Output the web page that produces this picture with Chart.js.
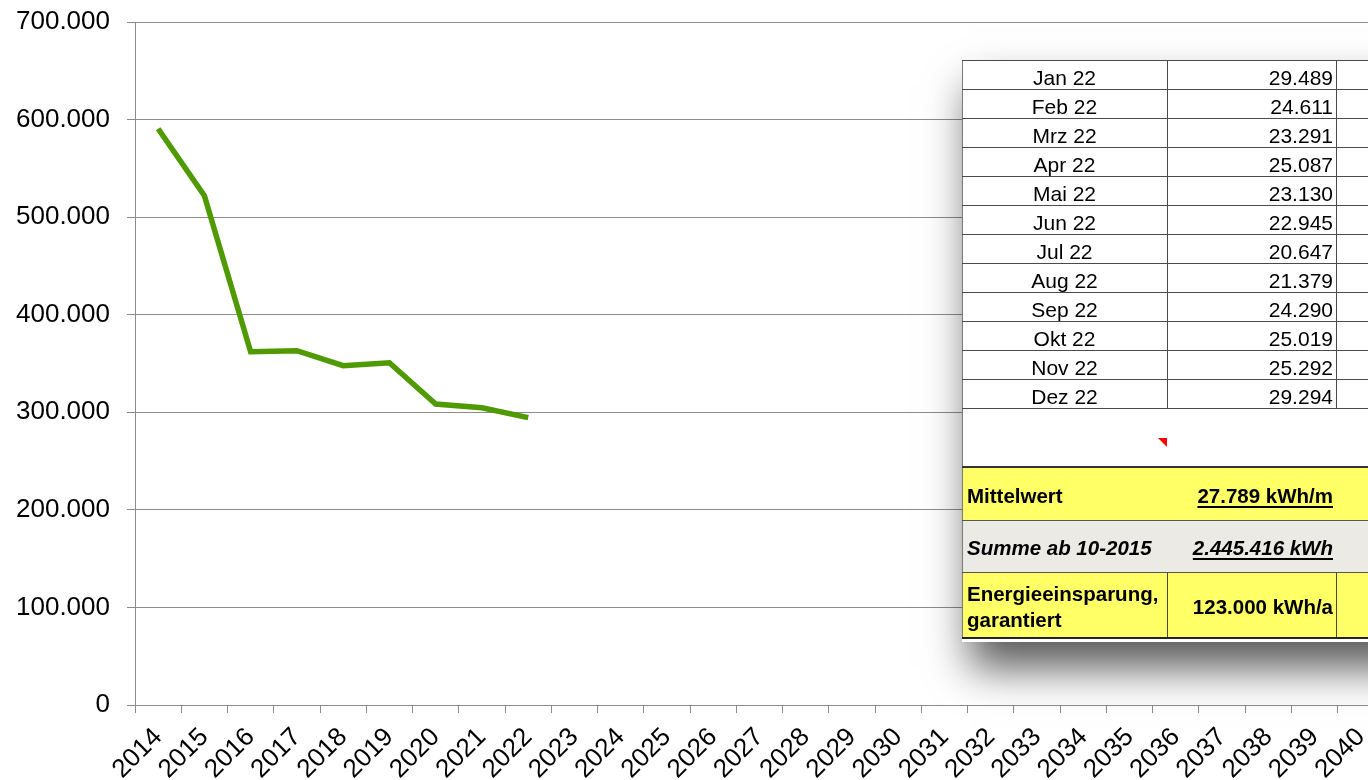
<!DOCTYPE html>
<html>
<head>
<meta charset="utf-8">
<script src="https://cdn.jsdelivr.net/npm/chart.js@4.4.1/dist/chart.umd.min.js"></script>
<style>
  html, body { margin:0; padding:0; background:#fff; width:1368px; height:780px; overflow:hidden; }
  #wrap { position:absolute; left:0; top:0; width:1400px; height:780px; }
  #sheet { position:absolute; left:962px; top:60px; width:460px; height:582px; background:#fff;
           box-shadow: 8px 26px 40px rgba(0,0,0,0.65);
           font-family:"Liberation Sans", Arial, sans-serif; color:#000; }
  .hl { position:absolute; left:0; width:460px; height:1px; background:#4a4a4a; }
  .vl { position:absolute; width:1px; background:#4a4a4a; }
  .cell { position:absolute; display:flex; align-items:center; box-sizing:border-box; white-space:nowrap; }
  .u { text-decoration:underline; text-decoration-thickness:2px; text-underline-offset:3px; }
</style>
</head>
<body>
<div id="wrap"><canvas id="c" width="1400" height="780"></canvas></div>
<div id="sheet"></div>
<script>
// ---- chart data ----
const years = ['2014','2015','2016','2017','2018','2019','2020','2021','2022','2023','2024','2025','2026','2027',
               '2028','2029','2030','2031','2032','2033','2034','2035','2036','2037','2038','2039','2040'];
const consumption = [590600, 522000, 362100, 363100, 347800, 350800, 308500, 304700, 294500];
const yTickValues = [0, 100000, 200000, 300000, 400000, 500000, 600000, 700000];

// ---- table overlay data ----
const tableMonths = ['Jan 22','Feb 22','Mrz 22','Apr 22','Mai 22','Jun 22','Jul 22','Aug 22','Sep 22','Okt 22','Nov 22','Dez 22'];
const tableValues = ['29.489','24.611','23.291','25.087','23.130','22.945','20.647','21.379','24.290','25.019','25.292','29.294'];
const summaryLabels = ['Mittelwert', 'Summe ab 10-2015', 'Energieeinsparung,<br>garantiert'];
const summaryValues = ['27.789 kWh/m', '2.445.416 kWh', '123.000 kWh/a'];

const FONT = '"Liberation Sans", Arial, sans-serif';
const fmt = v => String(v).replace(/\B(?=(\d{3})+(?!\d))/g, '.');

new Chart(document.getElementById('c'), {
  type: 'line',
  data: {
    labels: years,
    datasets: [{
      data: consumption,
      borderColor: '#4e9a00',
      borderWidth: 5.5,
      pointRadius: 0,
      tension: 0,
      fill: false
    }]
  },
  options: {
    responsive: false,
    animation: false,
    devicePixelRatio: 1,
    layout: { padding: { top: 22, right: 16, bottom: 0, left: 0 } },
    plugins: { legend: { display: false }, tooltip: { enabled: false } },
    scales: {
      x: {
        offset: true,
        grid: { offset: true, drawOnChartArea: false, drawTicks: true, tickLength: 8, color: '#8c8c8c' },
        border: { color: '#8c8c8c' },
        ticks: { autoSkip: false, minRotation: 45, maxRotation: 45, color: '#000', font: { family: FONT, size: 26 }, padding: 9 },
        afterFit(s) { s.height = 75; }
      },
      y: {
        min: 0, max: 700000,
        afterBuildTicks(s) { s.ticks = yTickValues.map(v => ({ value: v })); },
        ticks: { color: '#000', font: { family: FONT, size: 26 }, padding: 17, callback: v => fmt(v) },
        grid: { color: '#8c8c8c', tickLength: 8 },
        border: { color: '#8c8c8c' },
        afterFit(s) { s.width = 135; s.paddingTop = 0; s.paddingBottom = 0; }
      }
    }
  }
});

// ---- table overlay (pasted spreadsheet excerpt) ----
const sheet = document.getElementById('sheet');
function add(cls, style, html) {
  const d = document.createElement('div');
  d.className = cls;
  Object.assign(d.style, style);
  if (html !== undefined) d.innerHTML = html;
  sheet.appendChild(d);
  return d;
}
const ROW = 29, COL1 = 205, COL2 = 374;
// left border
add('vl', { left: '0px', top: '0px', height: '579px', background: '#7a7a7a' });
// month rows
tableMonths.forEach((m, i) => {
  const top = i * ROW;
  add('cell', { left: '0px', top: (top + 3) + 'px', width: COL1 + 'px', height: ROW + 'px', justifyContent: 'center', fontSize: '21px' }, m);
  add('cell', { left: COL1 + 'px', top: (top + 3) + 'px', width: (COL2 - COL1 - 3) + 'px', height: ROW + 'px', justifyContent: 'flex-end', fontSize: '21px' }, tableValues[i]);
});
for (let i = 0; i <= tableMonths.length; i++) add('hl', { top: (i * ROW) + 'px' });
add('vl', { left: COL1 + 'px', top: '0px', height: (tableMonths.length * ROW) + 'px' });
add('vl', { left: COL2 + 'px', top: '0px', height: (tableMonths.length * ROW) + 'px' });
// comment marker
add('', { position: 'absolute', left: '196px', top: '378px', width: '0', height: '0',
          borderTop: '9px solid #ff0000', borderLeft: '9px solid transparent' });
// summary rows
const rows = [
  { top: 407, h: 53, bg: '#ffff66', style: 'bold' },
  { top: 460, h: 52, bg: '#ebeae4', style: 'bolditalic' },
  { top: 512, h: 66, bg: '#ffff66', style: 'bold' }
];
rows.forEach((r, i) => {
  add('', { position: 'absolute', left: '1px', top: r.top + 'px', width: '459px', height: r.h + 'px', background: r.bg });
  const fs = { fontSize: '20.5px', fontWeight: 'bold', fontStyle: r.style === 'bolditalic' ? 'italic' : 'normal' };
  add('cell', Object.assign({ left: '5px', top: (r.top + 2) + 'px', width: '200px', height: r.h + 'px', lineHeight: '26px' }, fs), summaryLabels[i]);
  add('cell', Object.assign({ left: COL1 + 'px', top: (r.top + 2) + 'px', width: (COL2 - COL1 - 3) + 'px', height: r.h + 'px', justifyContent: 'flex-end' }, fs),
      i < 2 ? '<span class="u">' + summaryValues[i] + '</span>' : summaryValues[i]);
});
add('hl', { top: '406px', height: '2px', background: '#333' });
add('hl', { top: '460px', background: '#555' });
add('hl', { top: '512px', background: '#555' });
add('vl', { left: COL1 + 'px', top: '512px', height: '66px' });
add('vl', { left: COL2 + 'px', top: '512px', height: '66px' });
add('hl', { top: '577px', height: '2px', background: '#222' });
</script>
</body>
</html>
